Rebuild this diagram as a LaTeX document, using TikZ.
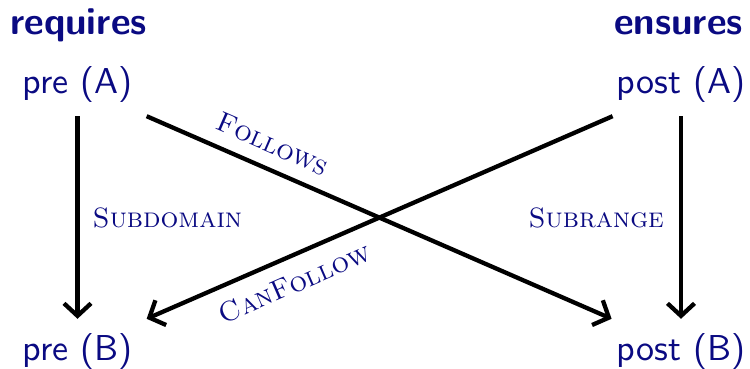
\documentclass[tikz,border=0pt]{standalone}
\usepackage{fontspec}
\usetikzlibrary{arrows.meta}
\definecolor{navy}{RGB}{10,10,130}
\newfontfamily\termfont{lmsans10-regular}[Extension=.otf]
\newfontfamily\headfont{lmsans10-bold}[Extension=.otf]
\begin{document}
\begin{tikzpicture}[x=1pt,y=-1pt,
  every node/.style={inner sep=0pt, text=navy},
  term/.style={font=\termfont\fontsize{36}{40}\selectfont, inner sep=14pt},
  head/.style={font=\headfont\fontsize{38.3}{42}\selectfont},
  rel/.style={font=\rmfamily\scshape\fontsize{28}{32}\selectfont},
  arr/.style={draw=black, line width=4.3pt, -{Straight Barb[length=12.5pt,width=27pt]}}]
\useasboundingbox (0,0) rectangle (750,369);
\node[head, anchor=base west] (req) at (10,35) {requires};
\node[head, anchor=base east] (ens) at (743,35) {ensures};
\node[term, anchor=base] (preA) at (77.5,93) {pre (A)};
\node[term, anchor=base] (postA) at (681,93) {post (A)};
\node[term, anchor=base] (preB) at (77.5,360) {pre (B)};
\node[term, anchor=base] (postB) at (681,360) {post (B)};
\draw[arr] (preA.south) -- (preB.north) node[rel, midway, right=13pt] (sd) {Subdomain};
\draw[arr] (postA.south) -- (postB.north) node[rel, midway, left=15pt] (sr) {Subrange};
\draw[arr] (preA.south east) -- ([xshift=9pt]postB.north west) node[rel, sloped, above=13pt, pos=0.25] (fo) {Follows};
\draw[arr] ([xshift=10pt]postA.south west) -- (preB.north east) node[rel, sloped, below=14pt, pos=0.705] (cf) {CanFollow};
\end{tikzpicture}
\end{document}
